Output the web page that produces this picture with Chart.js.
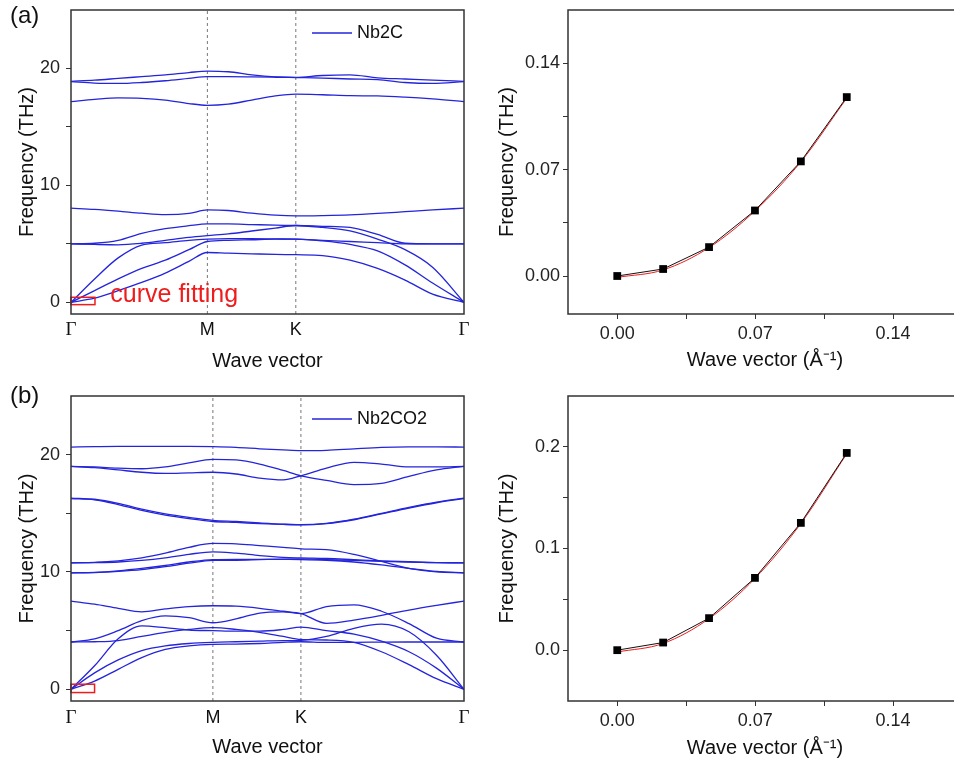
<!DOCTYPE html>
<html>
<head>
<meta charset="utf-8">
<title>Nb2C / Nb2CO2 phonon dispersion</title>
<script src="https://cdn.jsdelivr.net/npm/chart.js@4.4.1/dist/chart.umd.min.js"></script>
<style>
  html, body { margin: 0; padding: 0; background: #fff; overflow: hidden; }
  body { width: 954px; height: 766px; position: relative; }
  canvas { position: absolute; }
</style>
</head>
<body>
<canvas id="bandA" width="480" height="380" style="left:0;top:0"></canvas>
<canvas id="fitA" width="490" height="380" style="left:480px;top:0"></canvas>
<canvas id="bandB" width="480" height="386" style="left:0;top:380px"></canvas>
<canvas id="fitB" width="490" height="386" style="left:480px;top:380px"></canvas>
<script>
//positions along the Γ-M-K-Γ path (fraction of path length) where bands were read
const kPathNb2C = [0, 0.06, 0.12, 0.18, 0.24, 0.30, 0.347, 0.40, 0.46, 0.52, 0.572, 0.64, 0.71, 0.78, 0.85, 0.92, 1.0];
const kPathNb2CO2 = [0, 0.06, 0.12, 0.18, 0.24, 0.30, 0.361, 0.42, 0.48, 0.54, 0.585, 0.65, 0.72, 0.79, 0.86, 0.93, 1.0];

const symLabels = ['Γ', 'M', 'K', 'Γ'];
const symPosNb2C = [0, 0.347, 0.572, 1];
const symPosNb2CO2 = [0, 0.361, 0.585, 1];

//Nb2C phonon bands (THz)
const nb2cBand1 = [18.9, 19.0, 19.15, 19.3, 19.45, 19.65, 19.78, 19.72, 19.45, 19.28, 19.24, 19.4, 19.45, 19.2, 19.1, 19.0, 18.9];
const nb2cBand2 = [18.88, 18.75, 18.72, 18.8, 18.95, 19.15, 19.3, 19.3, 19.28, 19.25, 19.22, 19.18, 19.1, 19.05, 18.8, 18.72, 18.88];
const nb2cBand3 = [17.17, 17.35, 17.48, 17.45, 17.3, 17.0, 16.85, 16.95, 17.3, 17.65, 17.8, 17.75, 17.67, 17.65, 17.55, 17.4, 17.17];
const nb2cBand4 = [8.05, 7.95, 7.8, 7.62, 7.5, 7.6, 7.9, 7.85, 7.62, 7.45, 7.39, 7.42, 7.48, 7.6, 7.75, 7.9, 8.05];
const nb2cBand5 = [5.0, 5.05, 5.3, 5.9, 6.3, 6.55, 6.7, 6.7, 6.65, 6.6, 6.57, 6.5, 6.4, 5.8, 5.05, 5.0, 5.0];
const nb2cBand6 = [5.0, 4.95, 4.92, 5.05, 5.3, 5.55, 5.7, 5.85, 6.1, 6.35, 6.57, 6.4, 6.1, 5.4, 4.5, 3.0, 0];
const nb2cBand7 = [0, 2.0, 3.8, 4.9, 5.1, 5.3, 5.4, 5.45, 5.45, 5.42, 5.4, 5.3, 5.2, 5.1, 5.0, 5.0, 5.0];
const nb2cBand8 = [0, 1.0, 2.0, 2.9, 3.6, 4.5, 5.2, 5.3, 5.35, 5.4, 5.4, 5.25, 4.95, 4.4, 3.2, 1.65, 0];
const nb2cBand9 = [0, 0.35, 1.0, 1.7, 2.5, 3.5, 4.26, 4.2, 4.15, 4.1, 4.07, 4.0, 3.6, 2.9, 1.9, 0.7, 0];

//Nb2CO2 phonon bands (THz)
const nb2co2Band1 = [20.65, 20.68, 20.7, 20.7, 20.7, 20.7, 20.68, 20.62, 20.5, 20.4, 20.34, 20.37, 20.5, 20.62, 20.66, 20.66, 20.65];
const nb2co2Band2 = [19.0, 18.95, 18.85, 18.8, 18.95, 19.3, 19.6, 19.55, 19.2, 18.65, 18.2, 17.8, 17.45, 17.55, 18.15, 18.7, 19.0];
const nb2co2Band3 = [19.0, 18.9, 18.7, 18.5, 18.4, 18.45, 18.5, 18.35, 18.0, 17.85, 18.2, 18.85, 19.35, 19.2, 18.95, 18.95, 19.0];
const nb2co2Band4 = [16.3, 16.2, 15.85, 15.35, 14.95, 14.65, 14.4, 14.3, 14.18, 14.08, 14.04, 14.15, 14.5, 15.0, 15.5, 15.95, 16.3];
const nb2co2Band5 = [16.25, 16.15, 15.75, 15.25, 14.85, 14.55, 14.3, 14.22, 14.12, 14.05, 14.02, 14.12, 14.45, 14.95, 15.45, 15.9, 16.25];
const nb2co2Band6 = [10.78, 10.82, 10.95, 11.2, 11.6, 12.1, 12.43, 12.4, 12.25, 12.1, 11.97, 11.9, 11.5, 10.9, 10.3, 10.0, 9.93];
const nb2co2Band7 = [10.78, 10.8, 10.85, 10.98, 11.2, 11.5, 11.72, 11.6, 11.4, 11.25, 11.2, 11.15, 11.05, 10.95, 10.87, 10.8, 10.78];
const nb2co2Band8 = [9.93, 9.97, 10.1, 10.3, 10.55, 10.85, 11.06, 11.08, 11.08, 11.07, 11.06, 11.0, 10.85, 10.6, 10.3, 10.05, 9.93];
const nb2co2Band9 = [9.93, 9.95, 10.05, 10.2, 10.45, 10.75, 10.98, 11.0, 11.05, 11.1, 11.12, 11.05, 10.98, 10.9, 10.84, 10.8, 10.78];
const nb2co2Band10 = [7.52, 7.25, 6.9, 6.6, 6.85, 7.05, 7.12, 7.08, 6.9, 6.65, 6.45, 5.62, 5.9, 6.3, 6.75, 7.15, 7.52];
const nb2co2Band11 = [4.03, 4.3, 5.0, 5.85, 6.25, 6.1, 5.67, 6.0, 6.5, 6.6, 6.45, 7.05, 7.2, 6.65, 5.6, 4.35, 4.03];
const nb2co2Band12 = [4.03, 4.05, 4.15, 4.5, 4.85, 5.1, 5.25, 5.1, 4.85, 4.5, 4.25, 4.2, 4.0, 3.2, 2.1, 0.9, 0];
const nb2co2Band13 = [0, 2.0, 4.3, 5.4, 5.25, 5.05, 5.0, 4.95, 4.95, 5.1, 5.3, 5.0, 4.7, 4.1, 3.2, 1.8, 0];
const nb2co2Band14 = [0, 1.4, 2.5, 3.3, 3.7, 3.9, 4.0, 4.05, 4.1, 4.15, 4.17, 4.5, 5.2, 5.55, 4.9, 2.9, 0];
const nb2co2Band15 = [0, 0.7, 1.7, 2.7, 3.4, 3.7, 3.83, 3.85, 3.9, 4.0, 4.05, 4.0, 4.0, 4.02, 4.03, 4.03, 4.03];

//long-wavelength acoustic branch near Γ, with the fitted curve
const qFit = [0, 0.0233, 0.0466, 0.0699, 0.0932, 0.1165];
const nb2cFreq = [0, 0.0046, 0.019, 0.0431, 0.0754, 0.1177];
const nb2cFitCurve = [-0.0009, 0.0040, 0.0187, 0.0428, 0.0751, 0.1170];
const nb2co2Freq = [0, 0.0075, 0.0315, 0.0711, 0.1252, 0.194];
const nb2co2FitCurve = [-0.0018, 0.0066, 0.0310, 0.0706, 0.1246, 0.1932];

//tick values
const bandTicks = [0, 5, 10, 15, 20];
const qTicks = [0, 0.035, 0.07, 0.105, 0.14];
const nb2cFitTicks = [0, 0.035, 0.07, 0.105, 0.14];
const nb2co2FitTicks = [0, 0.05, 0.1, 0.15, 0.2];

const BLUE = '#2424dc';
const RED = '#ee1c1c';
const AXIS = '#333';
const FONT = "'Liberation Sans', Arial, sans-serif";

Chart.defaults.font.family = FONT;
Chart.defaults.color = '#222';

//frame, legend, labels and the fitting box
const panelDecor = {
	id: 'panelDecor',
	afterDatasetsDraw(chart, args, o) {
		const ctx = chart.ctx;
		const a = chart.chartArea;
		const xs = chart.scales.x, ys = chart.scales.y;
		ctx.save();

		if (o.fitBox) {
			ctx.strokeStyle = RED;
			ctx.lineWidth = 1.5;
			const x0 = xs.getPixelForValue(o.fitBox[0]), x1 = xs.getPixelForValue(o.fitBox[1]);
			const y0 = ys.getPixelForValue(o.fitBox[2]), y1 = ys.getPixelForValue(o.fitBox[3]);
			ctx.strokeRect(x0, y1, x1 - x0, y0 - y1);
		}

		ctx.strokeStyle = AXIS;
		ctx.lineWidth = 1.5;
		ctx.strokeRect(a.left, a.top, a.right - a.left, a.bottom - a.top);

		if (o.panel) {
			ctx.fillStyle = '#111';
			ctx.font = '24px ' + FONT;
			ctx.textBaseline = 'middle';
			ctx.textAlign = 'left';
			ctx.fillText(o.panel, 10, 16);
		}

		if (o.legend) {
			const ly = a.top + 23;
			ctx.strokeStyle = BLUE;
			ctx.lineWidth = 1.5;
			ctx.beginPath();
			ctx.moveTo(a.left + 241, ly);
			ctx.lineTo(a.left + 281, ly);
			ctx.stroke();
			ctx.fillStyle = '#111';
			ctx.font = '18px ' + FONT;
			ctx.textBaseline = 'middle';
			ctx.textAlign = 'left';
			ctx.fillText(o.legend, a.left + 286, ly);
		}

		if (o.fitText) {
			ctx.fillStyle = RED;
			ctx.font = '25px ' + FONT;
			ctx.textBaseline = 'middle';
			ctx.textAlign = 'left';
			ctx.fillText(o.fitText, xs.getPixelForValue(0.1), ys.getPixelForValue(0.65));
		}

		if (o.symPos) {
			ctx.fillStyle = '#111';
			ctx.textBaseline = 'middle';
			ctx.textAlign = 'center';
			o.symPos.forEach((p, i) => {
				const lab = symLabels[i];
				ctx.font = lab === 'Γ' ? "19px 'Liberation Serif', serif" : '18px ' + FONT;
				ctx.fillText(lab, xs.getPixelForValue(p), a.bottom + o.symDy);
			});
		}
		ctx.restore();
	}
};

//pin the axis boxes so the plot area lands where the original has it
function fixY(width) {
	return s => { s.width = width; s.paddingTop = 0; s.paddingBottom = 0; };
}
function fixX(height) {
	return s => { s.height = height; s.paddingLeft = 0; s.paddingRight = 0; };
}

function bandChart(id, kPath, bands, symPos, extras, plotH) {
	const ctx = document.getElementById(id).getContext('2d');
	const canvasH = ctx.canvas.height;

	const datasets = bands.map(b => ({
		data: kPath.map((k, i) => ({ x: k, y: b[i] })),
		borderColor: BLUE,
		borderWidth: 1.3,
		pointRadius: 0,
		cubicInterpolationMode: 'monotone',
		fill: false
	}));
	//dotted lines at M and K
	symPos.slice(1, 3).forEach(p => {
		datasets.push({
			data: [{ x: p, y: -1 }, { x: p, y: 25 }],
			borderColor: '#777',
			borderWidth: 1,
			borderDash: [3, 3],
			pointRadius: 0
		});
	});

	return new Chart(ctx, {
		type: 'line',
		data: { datasets: datasets },
		options: {
			responsive: false,
			animation: false,
			devicePixelRatio: 1,
			layout: { padding: { left: 0, top: extras.top, right: 16, bottom: 0 } },
			plugins: {
				legend: { display: false },
				tooltip: { enabled: false },
				panelDecor: Object.assign({ symPos: symPos }, extras)
			},
			scales: {
				x: {
					type: 'linear',
					min: 0,
					max: 1,
					grid: { display: false },
					border: { display: false },
					ticks: { display: false },
					title: { display: true, text: 'Wave vector', font: { size: 20 }, color: '#111', padding: { top: 0, bottom: extras.titleBottom } },
					afterFit: fixX(canvasH - extras.top - plotH)
				},
				y: {
					min: -1,
					max: 25,
					afterBuildTicks: s => { s.ticks = bandTicks.map(v => ({ value: v })); },
					ticks: {
						autoSkip: false,
						padding: 6,
						font: { size: 18 },
						color: '#222',
						callback: (v, i) => (i % 2 === 0 ? String(v) : '')
					},
					grid: { drawOnChartArea: false, drawTicks: true, tickLength: 5, color: AXIS },
					border: { display: false },
					title: { display: true, text: 'Frequency (THz)', font: { size: 20 }, color: '#111', padding: { top: 15, bottom: 0 } },
					afterFit: fixY(71)
				}
			}
		},
		plugins: [panelDecor]
	});
}

function fitChart(id, freq, fitCurve, yMin, yMax, yTicks, digits, extras, plotH) {
	const ctx = document.getElementById(id).getContext('2d');
	const canvasH = ctx.canvas.height;

	return new Chart(ctx, {
		type: 'line',
		data: {
			datasets: [{
				data: qFit.map((q, i) => ({ x: q, y: freq[i] })),
				borderColor: '#111',
				borderWidth: 1,
				backgroundColor: '#000',
				pointStyle: 'rect',
				pointRadius: 5.5,
				pointBorderWidth: 0,
				tension: 0
			}, {
				data: qFit.map((q, i) => ({ x: q, y: fitCurve[i] })),
				borderColor: RED,
				borderWidth: 1,
				pointRadius: 0,
				cubicInterpolationMode: 'monotone'
			}]
		},
		options: {
			responsive: false,
			animation: false,
			devicePixelRatio: 1,
			layout: { padding: { left: 0, top: extras.top, right: 8, bottom: 0 } },
			plugins: {
				legend: { display: false },
				tooltip: { enabled: false },
				panelDecor: {}
			},
			scales: {
				x: {
					type: 'linear',
					min: -0.025,
					max: 0.175,
					afterBuildTicks: s => { s.ticks = qTicks.map(v => ({ value: v })); },
					ticks: {
						autoSkip: false,
						maxRotation: 0,
						padding: 4,
						font: { size: 18 },
						color: '#222',
						callback: (v, i) => (i % 2 === 0 ? v.toFixed(2) : '')
					},
					grid: { drawOnChartArea: false, drawTicks: true, tickLength: 5, color: AXIS },
					border: { display: false },
					title: { display: true, text: 'Wave vector (Å⁻¹)', font: { size: 20 }, color: '#111', padding: { top: 0, bottom: extras.titleBottom } },
					afterFit: fixX(canvasH - extras.top - plotH)
				},
				y: {
					min: yMin,
					max: yMax,
					afterBuildTicks: s => { s.ticks = yTicks.map(v => ({ value: v })); },
					ticks: {
						autoSkip: false,
						padding: 3,
						font: { size: 18 },
						color: '#222',
						callback: (v, i) => (i % 2 === 0 ? v.toFixed(digits) : '')
					},
					grid: { drawOnChartArea: false, drawTicks: true, tickLength: 5, color: AXIS },
					border: { display: false },
					title: { display: true, text: 'Frequency (THz)', font: { size: 20 }, color: '#111', padding: { top: 15, bottom: 0 } },
					afterFit: fixY(88)
				}
			}
		},
		plugins: [panelDecor]
	});
}

bandChart('bandA', kPathNb2C,
	[nb2cBand1, nb2cBand2, nb2cBand3, nb2cBand4, nb2cBand5, nb2cBand6, nb2cBand7, nb2cBand8, nb2cBand9],
	symPosNb2C,
	{ top: 10, titleBottom: 7, panel: '(a)', legend: 'Nb2C', fitText: 'curve fitting', fitBox: [0, 0.061, -0.2, 0.43], symDy: 16 },
	304);

bandChart('bandB', kPathNb2CO2,
	[nb2co2Band1, nb2co2Band2, nb2co2Band3, nb2co2Band4, nb2co2Band5, nb2co2Band6, nb2co2Band7, nb2co2Band8,
	 nb2co2Band9, nb2co2Band10, nb2co2Band11, nb2co2Band12, nb2co2Band13, nb2co2Band14, nb2co2Band15],
	symPosNb2CO2,
	{ top: 16, titleBottom: 7, panel: '(b)', legend: 'Nb2CO2', fitBox: [0, 0.06, -0.28, 0.43], symDy: 17 },
	305);

fitChart('fitA', nb2cFreq, nb2cFitCurve, -0.025, 0.175, nb2cFitTicks, 2, { top: 10, titleBottom: 8 }, 304);
fitChart('fitB', nb2co2Freq, nb2co2FitCurve, -0.05, 0.25, nb2co2FitTicks, 1, { top: 16, titleBottom: 6 }, 305);
</script>
</body>
</html>
